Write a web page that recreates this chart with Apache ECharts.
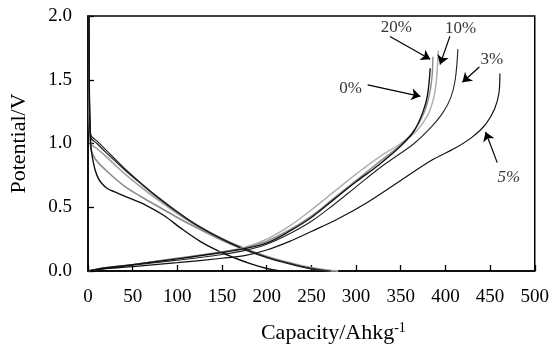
<!DOCTYPE html>
<html>
<head>
<meta charset="utf-8">
<script src="https://cdn.jsdelivr.net/npm/echarts@6/dist/echarts.min.js"></script>
<style>
  html, body { margin: 0; padding: 0; background: #fff; }
  #chart { width: 552px; height: 349px; }
</style>
</head>
<body>
<div id="chart"></div>
<script>
// capacity (Ah/kg) vs potential (V)
const charge0 = [[0,0],[20,0.025],[50,0.05],[100,0.095],[150,0.145],[175,0.175],[200,0.22],[225,0.31],[250,0.42],[275,0.56],[300,0.70],[325,0.83],[350,0.98],[365,1.10],[375,1.25],[380,1.38],[383,1.59]]
const charge3 = [[0,0],[20,0.02],[50,0.045],[100,0.085],[150,0.13],[175,0.16],[200,0.21],[225,0.29],[250,0.39],[275,0.52],[300,0.66],[325,0.80],[345,0.90],[365,1.00],[383,1.12],[397,1.24],[406,1.36],[411,1.50],[414,1.74]]
const charge5 = [[0,0],[20,0.018],[50,0.035],[100,0.065],[150,0.10],[175,0.12],[200,0.165],[225,0.23],[250,0.31],[280,0.41],[313,0.54],[350,0.71],[385,0.87],[410,0.96],[430,1.05],[445,1.15],[455,1.27],[460,1.40],[461,1.55]]
const charge10 = [[0,0],[20,0.025],[50,0.05],[100,0.10],[150,0.15],[175,0.185],[200,0.25],[225,0.35],[250,0.48],[275,0.62],[300,0.76],[325,0.89],[350,1.0],[368,1.10],[380,1.22],[387,1.36],[390,1.50],[392,1.73]]
const charge20 = [[0,0],[20,0.025],[50,0.05],[100,0.10],[150,0.15],[175,0.18],[200,0.235],[225,0.32],[250,0.43],[275,0.57],[300,0.71],[325,0.85],[350,0.99],[365,1.10],[376,1.24],[382,1.38],[385,1.52],[386,1.68]]

const discharge0 = [[1,2.0],[1.5,1.4],[3,1.0],[6,0.85],[10,0.75],[15,0.69],[22,0.645],[30,0.62],[45,0.575],[65,0.515],[85,0.435],[105,0.33],[125,0.235],[145,0.16],[165,0.10],[185,0.05],[200,0.02],[215,0]]
const discharge3 = [[1,2.0],[1.5,1.4],[3,1.07],[10,1.02],[20,0.95],[40,0.81],[60,0.685],[80,0.57],[100,0.465],[120,0.37],[140,0.29],[160,0.22],[180,0.16],[200,0.11],[220,0.07],[240,0.035],[260,0.01],[272,0]]
const discharge5 = [[1,2.0],[1.5,1.4],[3,1.05],[10,1.0],[20,0.93],[40,0.80],[60,0.68],[80,0.565],[100,0.46],[120,0.365],[140,0.285],[160,0.215],[180,0.155],[200,0.105],[220,0.065],[240,0.03],[258,0.005],[266,0]]
const discharge10 = [[1,2.0],[1.5,1.3],[3,1.0],[10,0.96],[20,0.90],[40,0.77],[60,0.655],[80,0.55],[100,0.45],[120,0.36],[140,0.285],[160,0.22],[180,0.165],[200,0.115],[220,0.075],[240,0.04],[260,0.015],[280,0]]
const discharge20 = [[1,2.0],[1.5,1.3],[3,0.97],[8,0.88],[20,0.79],[40,0.67],[60,0.58],[80,0.50],[100,0.42],[120,0.345],[140,0.275],[160,0.21],[180,0.155],[200,0.11],[220,0.07],[240,0.035],[260,0.01],[275,0]]

// annotations: labels and arrows (data coordinates)
const labelNames = ['20%', '10%', '3%', '0%', '5%']
const labelPos = [[345,1.91],[417,1.90],[452,1.66],[294,1.43],[471,0.73]]
const arrowFrom = [[338,1.84],[405,1.84],[438,1.60],[313,1.46],[458,0.85]]
const arrowTo = [[383,1.66],[394,1.62],[419,1.48],[372,1.37],[445,1.09]]

const FONT = 'Liberation Serif'

const curve = (name, data, color, width) => ({
  name,
  type: 'line',
  data,
  showSymbol: false,
  smooth: 0.35,
  lineStyle: { color, width },
  silent: true,
  animation: false
})

const series = [
  curve('d20', discharge20, '#8c8c8c', 1.6),
  curve('d10', discharge10, '#a6a6a6', 1.8),
  curve('d5', discharge5, '#222', 1.2),
  curve('d3', discharge3, '#222', 1.2),
  curve('d0', discharge0, '#111', 1.4),
  curve('c10', charge10, '#b0b0b0', 1.5),
  curve('c20', charge20, '#8c8c8c', 1.4),
  curve('c3', charge3, '#222', 1.1),
  curve('c5', charge5, '#111', 1.2),
  curve('c0', charge0, '#111', 1.4)
]

series.push({
  type: 'scatter',
  data: labelNames.map((n, i) => ({
    name: n,
    value: labelPos[i],
    label: n === '5%' ? { fontStyle: 'italic' } : undefined
  })),
  symbolSize: 1,
  itemStyle: { color: 'transparent' },
  silent: true,
  animation: false,
  label: {
    show: true,
    position: 'inside',
    formatter: '{b}',
    color: '#000',
    fontFamily: FONT,
    fontSize: 17
  },
  markLine: {
    silent: true,
    animation: false,
    symbol: ['none', 'arrow'],
    symbolSize: 9,
    label: { show: false },
    lineStyle: { type: 'solid', color: '#000', width: 1.2 },
    emphasis: { disabled: true },
    data: arrowFrom.map((p, i) => [{ coord: p }, { coord: arrowTo[i] }])
  }
})

const chart = echarts.init(document.getElementById('chart'))
chart.setOption({
  animation: false,
  grid: {
    left: 84, right: 16, top: 16, bottom: 77,
    show: true, borderColor: '#000', borderWidth: 1.5,
    containLabel: false
  },
  xAxis: {
    type: 'value',
    min: 0, max: 500, interval: 50,
    axisLine: { onZero: false, lineStyle: { color: '#000', width: 1.5 } },
    axisTick: { inside: true, length: 6, lineStyle: { color: '#000', width: 1.3 } },
    splitLine: { show: false },
    axisLabel: { color: '#000', fontFamily: FONT, fontSize: 19, margin: 17 },
    name: 'Capacity/Ahkg{sup|-1}',
    nameLocation: 'middle',
    nameGap: 50,
    nameTextStyle: {
      color: '#000', fontFamily: FONT, fontSize: 22, padding: [0, 0, 0, 44],
      rich: { sup: { fontFamily: FONT, fontSize: 14, color: '#000', padding: [0, 0, 10, 0] } }
    }
  },
  yAxis: {
    type: 'value',
    min: 0, max: 2, interval: 0.5,
    axisLine: { show: true, onZero: false, lineStyle: { color: '#000', width: 1.5 } },
    axisTick: { show: true, inside: true, length: 6, lineStyle: { color: '#000', width: 1.3 } },
    splitLine: { show: false },
    axisLabel: { color: '#000', fontFamily: FONT, fontSize: 19, margin: 16, formatter: v => v.toFixed(1) },
    name: 'Potential/V',
    nameLocation: 'middle',
    nameGap: 58,
    nameTextStyle: { color: '#000', fontFamily: FONT, fontSize: 22 }
  },
  series
})
</script>
</body>
</html>
